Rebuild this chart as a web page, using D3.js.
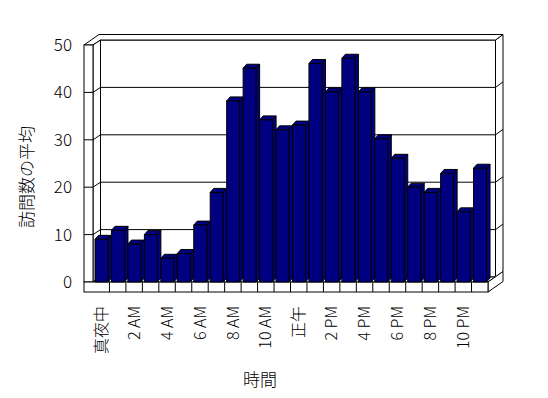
<!DOCTYPE html>
<html>
<head>
<meta charset="utf-8">
<script src="https://cdn.jsdelivr.net/npm/d3@7"></script>
<style>
    body { margin: 0; background: #fff; }
    svg text { font-family: "Noto Sans CJK JP", "Liberation Sans", sans-serif; font-weight: 300; fill: #000; }
</style>
</head>
<body>
<div id="chart"></div>
<script>
    // hours of the day (one bar each)
    var hours = ['真夜中', '1 AM', '2 AM', '3 AM', '4 AM', '5 AM', '6 AM', '7 AM', '8 AM', '9 AM', '10 AM', '11 AM',
        '正午', '1 PM', '2 PM', '3 PM', '4 PM', '5 PM', '6 PM', '7 PM', '8 PM', '9 PM', '10 PM', '11 PM'];
    // average visits per hour
    var visits = [9, 10.9, 8, 10, 5, 6, 12, 18.9, 38.2, 45.1, 34.2, 32.1,
        33.1, 46.1, 40.1, 47.2, 40.1, 30.2, 26.1, 20, 18.9, 22.9, 14.8, 24];
    // labels shown on the axes
    var xTickLabels = ['真夜中', '2 AM', '4 AM', '6 AM', '8 AM', '10 AM', '正午', '2 PM', '4 PM', '6 PM', '8 PM', '10 PM'];
    var yTicks = [0, 10, 20, 30, 40, 50];

    var width = 548, height = 398;
    var left = 84, plotL = 93, plotR = 488;
    var depth = { x: 7.5, y: -5 };     // plot depth
    var wall = { x: 7.5, y: -5.5 };    // back wall thickness
    var floorH = 10;
    var barD = { x: 3.5, y: -4 };      // bar depth
    var navy = '#000080';

    var x = d3.scaleBand().domain(hours).range([plotL, plotR]).padding(0);
    var y = d3.scaleLinear().domain([0, 50]).range([282, 45]);

    var svg = d3.select('#chart').append('svg')
        .attr('width', width)
        .attr('height', height);

    var y0 = y(0), yTop = y(50);
    var bx = plotL + depth.x, bxR = plotR + depth.x;      // back wall front face
    var ox = wall.x + depth.x, oy = wall.y + depth.y;     // to back of back wall

    function pts(a) {
        return a.map(function(p) { return p.join(','); }).join(' ');
    }

    var frame = svg.append('g')
        .attr('fill', '#fff')
        .attr('stroke', '#000')
        .attr('stroke-width', 1);

    // back wall right side
    frame.append('polygon').attr('points', pts([
        [bxR, yTop + depth.y], [plotR + ox, yTop + oy], [plotR + ox, y0 + oy], [bxR, y0 + depth.y]
    ]));
    // back wall front face
    frame.append('rect')
        .attr('x', bx).attr('y', yTop + depth.y)
        .attr('width', bxR - bx).attr('height', y0 - yTop);
    // top edge of the walls
    frame.append('polygon').attr('points', pts([
        [left, yTop], [plotL, yTop], [bx, yTop + depth.y], [bxR, yTop + depth.y],
        [plotR + ox, yTop + oy], [left + ox, yTop + oy]
    ]));
    // side wall inner face
    frame.append('polygon').attr('points', pts([
        [plotL, yTop], [bx, yTop + depth.y], [bx, y0 + depth.y], [plotL, y0]
    ]));
    // side wall front face
    frame.append('rect')
        .attr('x', left).attr('y', yTop)
        .attr('width', plotL - left).attr('height', y0 - yTop);
    // floor top, right side and front
    frame.append('polygon').attr('points', pts([
        [plotL, y0], [plotR, y0], [bxR, y0 + depth.y], [bx, y0 + depth.y]
    ]));
    frame.append('polygon').attr('points', pts([
        [plotR, y0], [plotR + ox, y0 + oy], [plotR + ox, y0 + oy + floorH], [plotR, y0 + floorH]
    ]));
    frame.append('rect')
        .attr('x', left).attr('y', y0)
        .attr('width', plotR - left).attr('height', floorH);

    // gridlines wrap round side wall, back wall and its edge
    svg.append('g')
        .selectAll('polyline')
        .data(yTicks.filter(function(v) { return v > 0 && v < 50; }))
        .enter().append('polyline')
        .attr('fill', 'none')
        .attr('stroke', '#000')
        .attr('points', function(v) {
            var yy = y(v);
            return pts([[left, yy], [plotL, yy], [bx, yy + depth.y], [bxR, yy + depth.y], [plotR + ox, yy + oy]]);
        });

    // category ticks on the floor front
    svg.append('g')
        .selectAll('line')
        .data(hours.slice(1))
        .enter().append('line')
        .attr('x1', function(d) { return x(d); })
        .attr('x2', function(d) { return x(d); })
        .attr('y1', y0)
        .attr('y2', y0 + floorH)
        .attr('stroke', '#000');

    // bars
    var bw = x.bandwidth() * 0.79;
    var bars = svg.append('g')
        .selectAll('g')
        .data(hours.map(function(h, i) { return { hour: h, value: visits[i] }; }))
        .enter().append('g')
        .attr('fill', navy)
        .attr('stroke', '#000')
        .attr('stroke-linejoin', 'round');

    bars.append('polygon').attr('points', function(d) {
        var xl = x(d.hour) + 2, yt = y(d.value);
        return pts([[xl + bw, yt], [xl + bw + barD.x, yt + barD.y], [xl + bw + barD.x, y0 + barD.y], [xl + bw, y0]]);
    });
    bars.append('polygon').attr('points', function(d) {
        var xl = x(d.hour) + 2, yt = y(d.value);
        return pts([[xl, yt], [xl + bw, yt], [xl + bw + barD.x, yt + barD.y], [xl + barD.x, yt + barD.y]]);
    });
    bars.append('rect')
        .attr('x', function(d) { return x(d.hour) + 2; })
        .attr('y', function(d) { return y(d.value); })
        .attr('width', bw)
        .attr('height', function(d) { return y0 - y(d.value); });

    // y axis labels
    var yAxis = svg.append('g')
        .attr('transform', 'translate(76,0)')
        .call(d3.axisLeft(y).tickValues(yTicks).tickSize(0).tickPadding(4));
    yAxis.select('.domain').remove();
    yAxis.selectAll('text')
        .style('font-size', '17px');

    // x axis labels, rotated
    var xAxis = svg.append('g')
        .attr('transform', 'translate(0,300)')
        .call(d3.axisBottom(x).tickValues(xTickLabels).tickSize(0));
    xAxis.select('.domain').remove();
    xAxis.selectAll('text')
        .style('font-size', '16px')
        .attr('transform', 'rotate(-90)')
        .attr('text-anchor', 'end')
        .attr('x', -6)
        .attr('y', 0)
        .attr('dy', '0.35em');

    // axis titles
    svg.append('text')
        .attr('transform', 'translate(33,177) rotate(-90)')
        .attr('text-anchor', 'middle')
        .style('font-size', '17px')
        .text('訪問数の平均');

    svg.append('text')
        .attr('x', 260)
        .attr('y', 386)
        .attr('text-anchor', 'middle')
        .style('font-size', '17px')
        .text('時間');
</script>
</body>
</html>
